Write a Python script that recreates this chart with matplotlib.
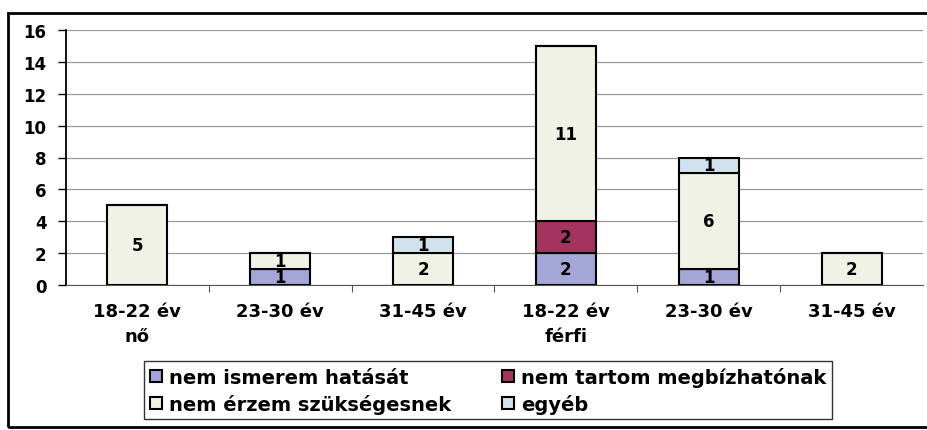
import numpy as np
import matplotlib
matplotlib.use("Agg")
import matplotlib.pyplot as plt
from matplotlib.patches import Rectangle

# data
groups = ["18-22 év\nnő", "23-30 év", "31-45 év", "18-22 év\nférfi", "23-30 év", "31-45 év"]
series_names = ["nem ismerem hatását", "nem tartom megbízhatónak",
                "nem érzem szükségesnek", "egyéb"]
nem_ismerem = [0, 1, 0, 2, 1, 0]
nem_tartom = [0, 0, 0, 2, 0, 0]
nem_erzem = [5, 1, 2, 11, 6, 2]
egyeb = [0, 0, 1, 0, 1, 0]
colors = ["#a3a6d6", "#a3335f", "#f0f2e6", "#cfe2ee"]

plt.rcParams["font.family"] = "DejaVu Sans"
plt.rcParams["font.weight"] = "bold"

fig = plt.figure(figsize=(9.27, 4.31), dpi=100)
ax = fig.add_axes([66 / 927, 1 - 286 / 431, (923 - 66) / 927, (286 - 31) / 431])

x = np.arange(len(groups))
bottom = np.zeros(len(groups))
handles = []
for vals, name, col in zip([nem_ismerem, nem_tartom, nem_erzem, egyeb], series_names, colors):
    vals = np.array(vals)
    bars = ax.bar(x, vals, 0.42, bottom=bottom, color=col, edgecolor="black",
                  linewidth=1.5, label=name, zorder=3)
    handles.append(bars)
    for xi, b, v in zip(x, bottom, vals):
        if v > 0:
            ax.text(xi, b + v / 2, str(v), ha="center", va="center",
                    fontsize=12, fontweight="bold", zorder=4)
    bottom += vals

ax.set_xlim(-0.5, len(groups) - 0.5)
ax.set_ylim(0, 16)
ax.set_yticks(range(0, 17, 2))
ax.set_xticks(x)
ax.set_xticklabels(groups, fontsize=13, fontweight="bold", linespacing=1.5)
ax.tick_params(axis="x", length=0, pad=12)
ax.set_xticks(np.arange(0.5, len(groups) - 0.5), minor=True)
ax.tick_params(axis="x", which="minor", length=5, width=0.8, color="#555555")
ax.tick_params(axis="y", labelsize=12, length=6, width=1, pad=8)
for lab in ax.get_yticklabels():
    lab.set_fontweight("bold")

ax.grid(axis="y", color="#999999", linewidth=0.9, zorder=0)
ax.spines["top"].set_visible(False)
ax.spines["right"].set_visible(False)
ax.spines["left"].set_linewidth(1.3)
ax.spines["bottom"].set_color("#555555")

# legend fills row by row in the reference
order = [0, 2, 1, 3]
leg = fig.legend([handles[i] for i in order], [series_names[i] for i in order],
                 loc="upper left", bbox_to_anchor=(144 / 927, 1 - 362 / 431),
                 borderaxespad=0, ncol=2, frameon=True, fancybox=False,
                 edgecolor="black", handlelength=0.6, handleheight=0.6,
                 handletextpad=0.4, columnspacing=2.6, labelspacing=0.35,
                 borderpad=0.3, prop={"weight": "bold", "size": 14})
leg.get_frame().set_linewidth(1.0)

# outer frame of the scanned chart
fig.patches.append(Rectangle((8 / 927, 3 / 431), 1.0, 1 - 17 / 431,
                             transform=fig.transFigure, fill=False,
                             edgecolor="black", linewidth=2))

fig.savefig("out.png", dpi=100)
